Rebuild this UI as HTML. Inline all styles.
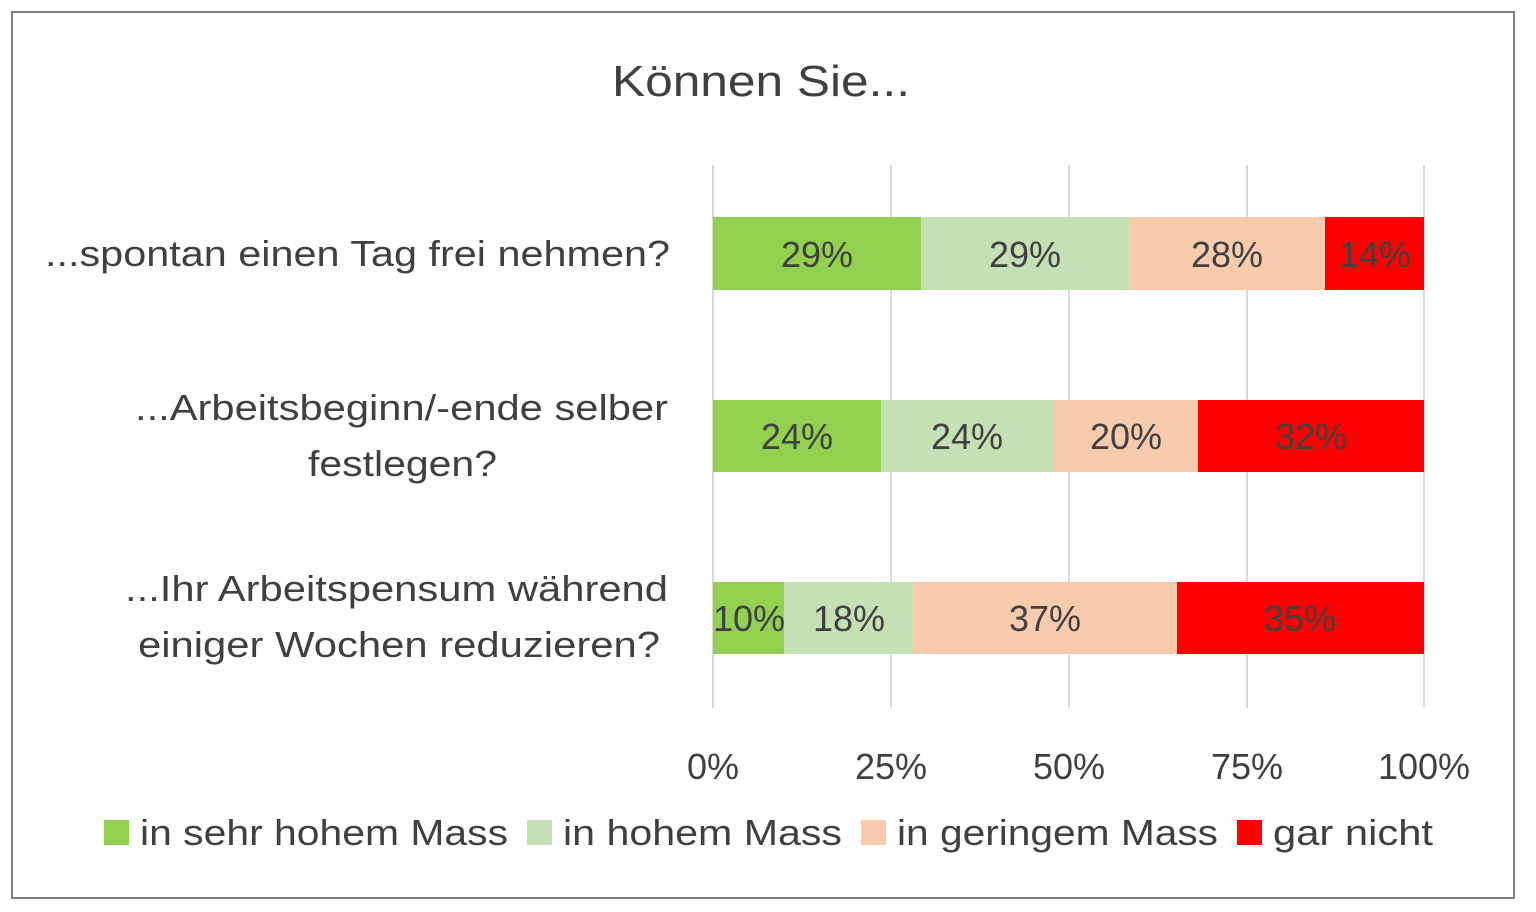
<!DOCTYPE html>
<html><head><meta charset="utf-8"><style>
html,body{margin:0;padding:0;background:#fff;}
svg{display:block;}
text{font-family:"Liberation Sans",sans-serif;fill:#404040;}
</style></head><body>
<svg width="1536" height="912" xmlns="http://www.w3.org/2000/svg">
<rect x="12" y="12" width="1502" height="886" fill="#fff" stroke="#7f7f7f" stroke-width="2"/>
<text x="612" y="96" font-size="44" textLength="298" lengthAdjust="spacingAndGlyphs">Können Sie...</text>
<g stroke="#d9d9d9" stroke-width="2">
<line x1="713" y1="165" x2="713" y2="708"/><line x1="891" y1="165" x2="891" y2="708"/>
<line x1="1069" y1="165" x2="1069" y2="708"/><line x1="1247" y1="165" x2="1247" y2="708"/>
<line x1="1424" y1="165" x2="1424" y2="708"/></g>
<rect x="713" y="217" width="208" height="73" fill="#92d050"/>
<rect x="921" y="217" width="209" height="73" fill="#c5e0b4"/>
<rect x="1130" y="217" width="195" height="73" fill="#f8cbad"/>
<rect x="1325" y="217" width="99" height="73" fill="#ff0000"/>
<rect x="713" y="400" width="168" height="72" fill="#92d050"/>
<rect x="881" y="400" width="173" height="72" fill="#c5e0b4"/>
<rect x="1054" y="400" width="144" height="72" fill="#f8cbad"/>
<rect x="1198" y="400" width="226" height="72" fill="#ff0000"/>
<rect x="713" y="582" width="71" height="72" fill="#92d050"/>
<rect x="784" y="582" width="130" height="72" fill="#c5e0b4"/>
<rect x="914" y="582" width="263" height="72" fill="#f8cbad"/>
<rect x="1177" y="582" width="247" height="72" fill="#ff0000"/>
<g font-size="36" text-anchor="middle">
<text x="817" y="267">29%</text><text x="1025" y="267">29%</text><text x="1227" y="267">28%</text><text x="1375" y="267">14%</text>
<text x="797" y="449">24%</text><text x="967" y="449">24%</text><text x="1126" y="449">20%</text><text x="1311" y="449">32%</text>
<text x="749" y="631">10%</text><text x="849" y="631">18%</text><text x="1045" y="631">37%</text><text x="1300" y="631">35%</text>
<text x="713" y="779">0%</text><text x="891" y="779">25%</text><text x="1069" y="779">50%</text><text x="1247" y="779">75%</text><text x="1424" y="779">100%</text>
</g>
<g font-size="36" lengthAdjust="spacingAndGlyphs">
<text x="45" y="266" textLength="625" lengthAdjust="spacingAndGlyphs">...spontan einen Tag frei nehmen?</text>
<text x="135" y="420" textLength="533" lengthAdjust="spacingAndGlyphs">...Arbeitsbeginn/-ende selber</text>
<text x="308" y="476" textLength="189" lengthAdjust="spacingAndGlyphs">festlegen?</text>
<text x="125" y="601" textLength="543" lengthAdjust="spacingAndGlyphs">...Ihr Arbeitspensum während</text>
<text x="138" y="657" textLength="522" lengthAdjust="spacingAndGlyphs">einiger Wochen reduzieren?</text>
</g>
<g font-size="36">
<rect x="104" y="820" width="25" height="25" fill="#92d050"/><text x="140" y="845" textLength="368" lengthAdjust="spacingAndGlyphs">in sehr hohem Mass</text>
<rect x="527" y="820" width="25" height="25" fill="#c5e0b4"/><text x="563" y="845" textLength="279" lengthAdjust="spacingAndGlyphs">in hohem Mass</text>
<rect x="861" y="820" width="25" height="25" fill="#f8cbad"/><text x="897" y="845" textLength="321" lengthAdjust="spacingAndGlyphs">in geringem Mass</text>
<rect x="1237" y="820" width="25" height="25" fill="#ff0000"/><text x="1273" y="845" textLength="160" lengthAdjust="spacingAndGlyphs">gar nicht</text>
</g>
</svg>
</body></html>
